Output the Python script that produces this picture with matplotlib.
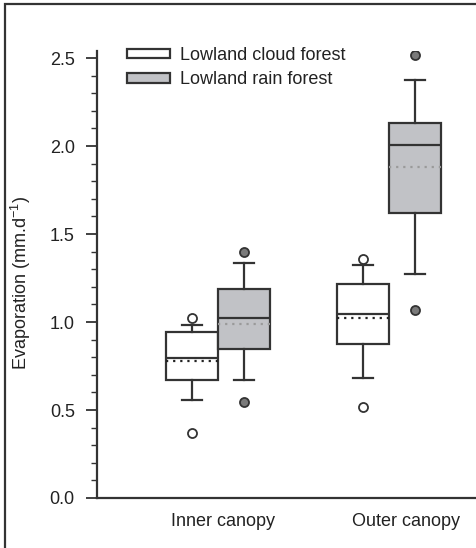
import matplotlib
matplotlib.use("Agg")
import matplotlib.pyplot as plt
from matplotlib.patches import Patch, Rectangle
from matplotlib.ticker import MultipleLocator, FormatStrFormatter

plt.rcParams['font.family'] = ['Liberation Sans', 'DejaVu Sans']
plt.rcParams['mathtext.fontset'] = 'custom'
plt.rcParams['mathtext.rm'] = 'Liberation Sans'
plt.rcParams['mathtext.default'] = 'regular'

# ---- data ----
categories = ["Inner canopy", "Outer canopy"]
series = ["Lowland cloud forest", "Lowland rain forest"]

cloud_q1 = [0.67, 0.877]
cloud_med = [0.795, 1.046]
cloud_q3 = [0.945, 1.216]
cloud_lo = [0.557, 0.68]
cloud_hi = [0.985, 1.322]
cloud_mean = [0.777, 1.021]
cloud_fliers = [[0.371, 1.02], [0.515, 1.36]]

rain_q1 = [0.847, 1.618]
rain_med = [1.024, 2.004]
rain_q3 = [1.186, 2.133]
rain_lo = [0.669, 1.271]
rain_hi = [1.333, 2.375]
rain_mean = [0.987, 1.883]
rain_fliers = [[0.547, 1.40], [1.068, 2.517]]

EDGE = "#333333"
TEXT = "#222222"
GREY_FILL = "#c1c2c6"
FS = 13


def make_stats(q1, med, q3, lo, hi, mean, fliers):
    return [dict(q1=q1[i], med=med[i], q3=q3[i], whislo=lo[i], whishi=hi[i],
                 mean=mean[i], fliers=fliers[i]) for i in range(len(q1))]


fig = plt.figure(figsize=(4.76, 5.48), dpi=100)
ax = fig.add_axes([97 / 476, 50 / 548, 1 - 97 / 476, 447 / 548])

offset = 0.152
width = 0.30
centers = [1, 2]

for stats, off, fill, mean_col, flier_fc in [
        (make_stats(cloud_q1, cloud_med, cloud_q3, cloud_lo, cloud_hi, cloud_mean, cloud_fliers),
         -offset, "white", "#222222", "white"),
        (make_stats(rain_q1, rain_med, rain_q3, rain_lo, rain_hi, rain_mean, rain_fliers),
         offset, GREY_FILL, "#9a9a9a", "#7a7a7a")]:
    ax.bxp(stats, positions=[c + off for c in centers], widths=width,
           patch_artist=True, showmeans=True, meanline=True,
           boxprops=dict(facecolor=fill, edgecolor=EDGE, linewidth=1.6),
           medianprops=dict(color=EDGE, linewidth=1.6),
           meanprops=dict(color=mean_col, linewidth=1.6, linestyle=(0, (1, 2.2))),
           whiskerprops=dict(color=EDGE, linewidth=1.6),
           capprops=dict(color=EDGE, linewidth=1.6),
           capwidths=0.12,
           flierprops=dict(marker='o', markersize=6.5, markerfacecolor=flier_fc,
                           markeredgecolor=EDGE, markeredgewidth=1.3))

ax.set_xlim(0.292, 2.509)
ax.set_ylim(0, 2.54)
ax.set_xticks([1.03, 2.10])
ax.set_xticklabels(categories, fontsize=FS, color=TEXT)
ax.tick_params(axis='x', length=0, pad=11)

ax.yaxis.set_major_locator(MultipleLocator(0.5))
ax.yaxis.set_minor_locator(MultipleLocator(0.1))
ax.yaxis.set_major_formatter(FormatStrFormatter('%.1f'))
ax.tick_params(axis='y', which='major', length=8, width=1.3, color=EDGE,
               labelsize=FS, labelcolor=TEXT, pad=8)
ax.tick_params(axis='y', which='minor', length=4, width=1.0, color=EDGE)

for side in ['top', 'right']:
    ax.spines[side].set_visible(False)
for side in ['left', 'bottom']:
    ax.spines[side].set_color(EDGE)
    ax.spines[side].set_linewidth(1.6)

ax.set_ylabel("Evaporation (mm.d$^{-1}$)", fontsize=FS, color=TEXT)
ax.yaxis.set_label_coords(-0.17, 0.48)

handles = [Patch(facecolor="white", edgecolor=EDGE, linewidth=1.6, label=series[0]),
           Patch(facecolor=GREY_FILL, edgecolor=EDGE, linewidth=1.6, label=series[1])]
leg = ax.legend(handles=handles, loc='upper left', bbox_to_anchor=(127 / 476, 1 - 47 / 548),
                bbox_transform=fig.transFigure, frameon=False, fontsize=FS,
                handlelength=2.4, handleheight=0.45, handletextpad=0.55,
                borderpad=0, borderaxespad=0, labelspacing=0.4)
for t in leg.get_texts():
    t.set_color(TEXT)

# frame around the figure (open at right and bottom, as in the reference)
fig.add_artist(Rectangle((5 / 476, -0.1), 1.2, 1 - 4 / 548 + 0.1, transform=fig.transFigure,
                         fill=False, edgecolor=EDGE, linewidth=1.6, clip_on=False))

fig.savefig("out.png", dpi=100)
